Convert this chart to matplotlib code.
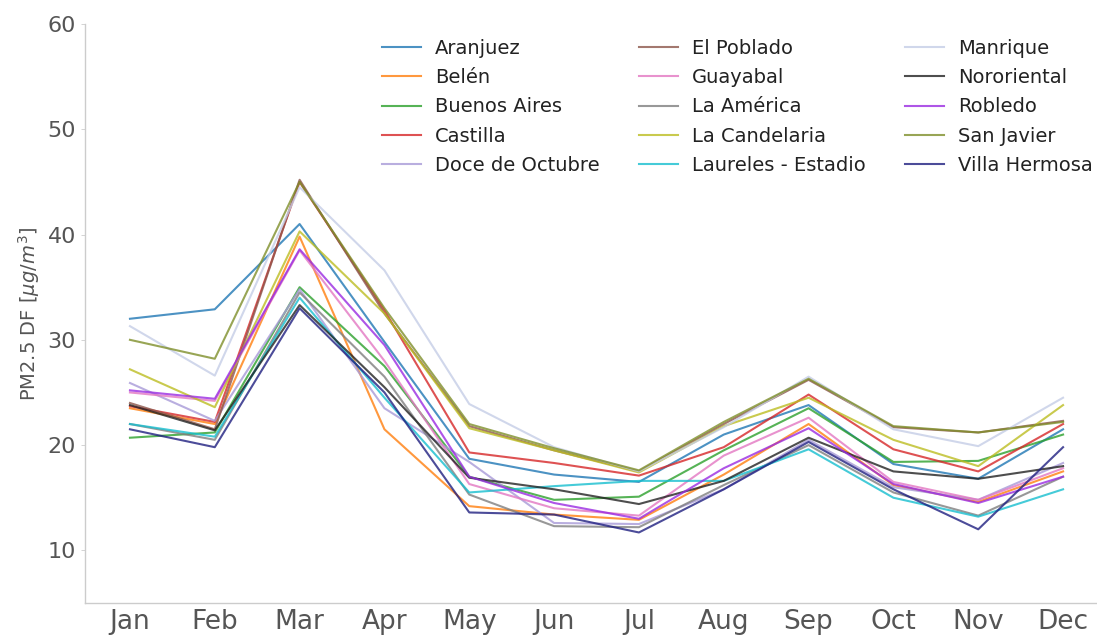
import numpy as np
import matplotlib
matplotlib.use("Agg")
from matplotlib import pyplot as plt

months = ['Jan', 'Feb', 'Mar', 'Apr', 'May', 'Jun', 'Jul', 'Aug', 'Sep', 'Oct', 'Nov', 'Dec']

aranjuez       = [32.0, 32.9, 41.0, 29.8, 18.7, 17.2, 16.5, 21.0, 23.8, 18.2, 16.8, 21.5]
belen          = [23.5, 22.0, 39.8, 21.5, 14.2, 13.4, 12.9, 17.2, 22.0, 16.2, 14.6, 17.5]
buenos_aires   = [20.7, 21.2, 35.0, 27.5, 17.0, 14.8, 15.1, 19.5, 23.5, 18.4, 18.5, 21.0]
castilla       = [23.7, 22.2, 45.0, 32.8, 19.3, 18.3, 17.1, 19.8, 24.8, 19.6, 17.5, 22.0]
doce_octubre   = [25.9, 22.3, 34.8, 23.5, 18.4, 12.6, 12.5, 15.8, 20.5, 16.0, 14.8, 18.3]
el_poblado     = [24.0, 21.5, 45.2, 32.5, 21.8, 19.5, 17.5, 22.0, 26.2, 21.7, 21.2, 22.3]
guayabal       = [25.0, 24.2, 38.5, 28.0, 16.3, 14.0, 13.3, 19.0, 22.6, 16.5, 14.8, 17.8]
la_america     = [22.0, 20.5, 34.5, 26.5, 15.3, 12.3, 12.2, 16.2, 20.0, 15.5, 13.3, 17.0]
la_candelaria  = [27.2, 23.6, 40.3, 32.5, 21.6, 19.5, 17.4, 21.8, 24.5, 20.5, 18.0, 23.8]
laureles       = [22.0, 20.8, 34.0, 24.5, 15.5, 16.1, 16.6, 16.6, 19.6, 15.0, 13.2, 15.8]
manrique       = [31.3, 26.6, 44.5, 36.6, 23.9, 19.8, 17.5, 21.7, 26.5, 21.5, 19.9, 24.5]
nororiental    = [23.8, 21.4, 33.3, 25.5, 16.9, 15.8, 14.4, 16.6, 20.7, 17.5, 16.8, 18.0]
robledo        = [25.2, 24.4, 38.6, 29.5, 17.0, 14.5, 13.0, 17.8, 21.6, 16.3, 14.5, 17.0]
san_javier     = [30.0, 28.2, 45.0, 33.0, 22.0, 19.7, 17.6, 22.2, 26.3, 21.8, 21.2, 22.2]
villa_hermosa  = [21.5, 19.8, 33.0, 25.0, 13.6, 13.4, 11.7, 15.8, 20.3, 15.8, 12.0, 19.8]

names = ['Aranjuez', 'Belén', 'Buenos Aires', 'Castilla', 'Doce de Octubre',
         'El Poblado', 'Guayabal', 'La América', 'La Candelaria', 'Laureles - Estadio',
         'Manrique', 'Nororiental', 'Robledo', 'San Javier', 'Villa Hermosa']
series = [aranjuez, belen, buenos_aires, castilla, doce_octubre,
          el_poblado, guayabal, la_america, la_candelaria, laureles,
          manrique, nororiental, robledo, san_javier, villa_hermosa]
colors = ['tab:blue', 'tab:orange', 'tab:green', 'tab:red', '#a89ad8',
          'tab:brown', 'tab:pink', 'tab:gray', 'tab:olive', 'tab:cyan',
          '#c5cde6', '#222222', '#9a2be2', '#7f8f2a', '#1f1f80']

fig = plt.figure(figsize=(10.97, 6.39), dpi=100)
ax = fig.add_axes([85 / 1097, 36 / 639, 1012 / 1097, 579 / 639])

x = np.arange(len(months))
for name, vals, c in zip(names, series, colors):
    ax.plot(x, vals, color=c, lw=1.5, alpha=0.8, label=name)

ax.set_xlim(-0.53, 11.4)
ax.set_ylim(5, 60)
ax.set_xticks(x)
ax.set_xticklabels(months)
ax.set_yticks([10, 20, 30, 40, 50, 60])
ax.tick_params(axis='x', labelsize=19, colors='#555555', length=0, pad=4)
ax.tick_params(axis='y', labelsize=16, colors='#555555', length=3, width=0.6)
ax.tick_params(axis='both', color='#cccccc')
ax.set_ylabel('PM2.5 DF [$\\mu g/m^3$]', fontsize=14, color='#555555')

for side in ['top', 'right']:
    ax.spines[side].set_visible(False)
for side in ['left', 'bottom']:
    ax.spines[side].set_color('#cccccc')
    ax.spines[side].set_linewidth(1.0)

leg = ax.legend(ncol=3, frameon=False, fontsize=14, loc='upper left',
                bbox_to_anchor=(0.276, 1.004), handlelength=2.0, handletextpad=0.75,
                columnspacing=2.0, labelspacing=0.52)
for t in leg.get_texts():
    t.set_color('#222222')

plt.savefig('out.png')
